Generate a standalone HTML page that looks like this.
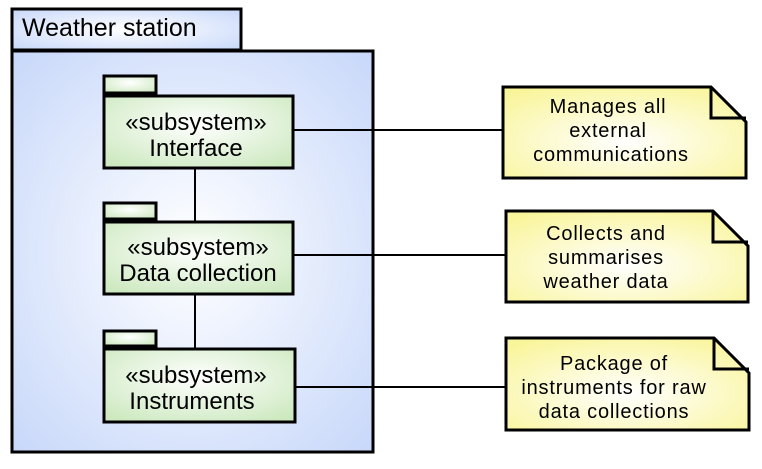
<!DOCTYPE html>
<html><head><style>body{margin:0;background:#fff}</style></head><body>
<svg width="762" height="464" xmlns="http://www.w3.org/2000/svg" font-family="Liberation Sans, sans-serif">
<defs>
<radialGradient id="bg" cx="0.5" cy="0.5" r="0.7"><stop offset="0" stop-color="#ffffff"/><stop offset="1" stop-color="#c8d8fa"/></radialGradient>
<radialGradient id="gr" cx="0.5" cy="0.4" r="0.7"><stop offset="0" stop-color="#ffffff"/><stop offset="1" stop-color="#cde9c0"/></radialGradient>
<radialGradient id="yl" cx="0.5" cy="0.6" r="0.7"><stop offset="0" stop-color="#ffffff"/><stop offset="1" stop-color="#f9f59a"/></radialGradient>
</defs>
<g stroke="#000" stroke-width="3">
<rect x="12" y="9" width="229" height="41" fill="url(#bg)"/>
<rect x="12" y="51" width="361" height="401" fill="url(#bg)"/>
<line x1="195" y1="168" x2="195" y2="221" stroke-width="2"/>
<line x1="195" y1="294" x2="195" y2="348" stroke-width="2"/>
<line x1="293" y1="130" x2="502" y2="130" stroke-width="2"/>
<line x1="293" y1="255" x2="505" y2="255" stroke-width="2"/>
<line x1="295" y1="387" x2="505" y2="387" stroke-width="2"/>
<rect x="104" y="76" width="52" height="17" fill="url(#gr)"/>
<rect x="104" y="96" width="189" height="72" fill="url(#gr)"/>
<rect x="104" y="203" width="52" height="16" fill="url(#gr)"/>
<rect x="104" y="222" width="189" height="72" fill="url(#gr)"/>
<rect x="104" y="331" width="52" height="15" fill="url(#gr)"/>
<rect x="104" y="349" width="191" height="73" fill="url(#gr)"/>
<path d="M503 87 H711 L746 122 V178 H503 Z" fill="url(#yl)"/>
<path d="M711 87 V118 H746" fill="none"/>
<path d="M506 211 H713 L748 246 V302 H506 Z" fill="url(#yl)"/>
<path d="M713 211 V242 H748" fill="none"/>
<path d="M506 338 H714 L749 373 V430 H506 Z" fill="url(#yl)"/>
<path d="M714 338 V369 H749" fill="none"/>
</g>
<text x="22" y="36" font-size="25" fill="#000">Weather station</text>
<g font-size="24" text-anchor="middle" fill="#000">
<text x="196" y="130">«subsystem»</text><text x="196" y="156">Interface</text>
<text x="198" y="255">«subsystem»</text><text x="198" y="281">Data collection</text>
<text x="196" y="383">«subsystem»</text><text x="192" y="409">Instruments</text>
</g>
<g font-size="20" text-anchor="middle" fill="#000" letter-spacing="0.8">
<text x="608" y="113">Manages all</text><text x="608" y="137">external</text><text x="611" y="161">communications</text>
<text x="606" y="240">Collects and</text><text x="606" y="264">summarises</text><text x="606" y="288">weather data</text>
<text x="614" y="370">Package of</text><text x="614" y="394">instruments for raw</text><text x="614" y="418">data collections</text>
</g>
</svg>
</body></html>
